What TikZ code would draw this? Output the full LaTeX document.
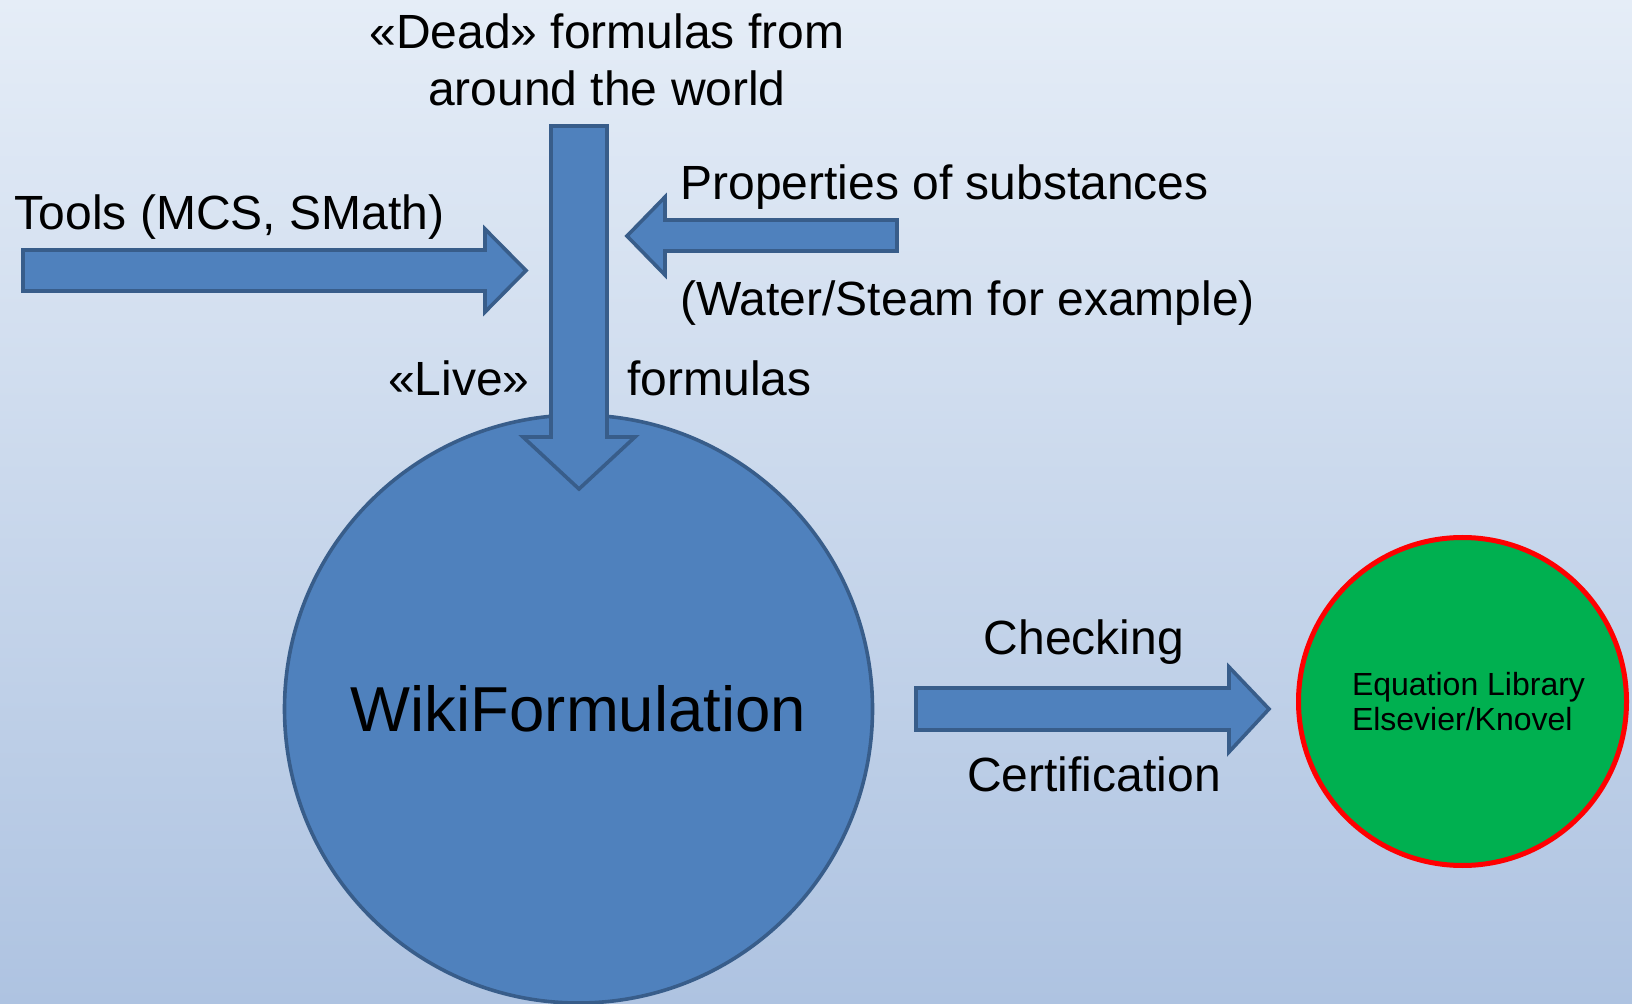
\documentclass[tikz,border=0pt]{standalone}
\usepackage{fontspec}
\setmainfont{Liberation Sans}
\usetikzlibrary{positioning}
\definecolor{bgtop}{RGB}{229,237,247}
\definecolor{bgbot}{RGB}{174,195,225}
\definecolor{arrowfill}{RGB}{79,129,189}
\definecolor{arrowline}{RGB}{56,93,138}
\definecolor{libgreen}{RGB}{0,176,80}
\tikzset{
  blockarrow/.style={fill=arrowfill,draw=arrowline,line width=1.8pt,line join=miter},
  plaintext/.style={font=\fontsize{24}{28.6}\selectfont,inner sep=0pt},
}
\begin{document}
\begin{tikzpicture}[x=0.5pt,y=-0.5pt]
    \useasboundingbox (0,0) rectangle (1632,1004);
    \shade[top color=bgtop,bottom color=bgbot] (0,0) rectangle (1632,1004);

    % main circle
    \node[circle,fill=arrowfill,draw=arrowline,line width=1.8pt,minimum size=294pt,
          font=\fontsize{31.75}{36}\selectfont] (wiki) at (578.5,709) {WikiFormulation};

    % incoming formulas from above
    \node[plaintext,align=center] (dead) at (607,60) {«Dead» formulas from\\around the world};
    \draw[blockarrow] (551,126)--(607,126)--(607,437)--(635,437)--(579,489)--(523,437)--(551,437)--cycle;
    \node[plaintext,anchor=east] (live) at (530,378) {«Live»};
    \node[plaintext,anchor=west] (formulas) at (627,378) {formulas};

    % tools
    \node[plaintext,anchor=west] (tools) at (14.5,217) {Tools (MCS, SMath)};
    \draw[blockarrow] (23,250)--(485,250)--(485,229)--(526,270.5)--(485,312)--(485,291)--(23,291)--cycle;

    % substances
    \node[plaintext,anchor=west] (props) at (680,187) {Properties of substances};
    \node[plaintext,anchor=west] (water) at (680,303) {(Water/Steam for example)};
    \draw[blockarrow] (897,220)--(665,220)--(665,197)--(627,236)--(665,275)--(665,251)--(897,251)--cycle;

    % checking against the library
    \node[plaintext] (check) at (1084,642) {Checking};
    \node[plaintext] (cert) at (1094,774) {Certification};
    \draw[blockarrow] (916,688)--(1229,688)--(1229,667)--(1269,709)--(1229,752)--(1229,730)--(916,730)--cycle;

    \node[circle,fill=libgreen,draw=red,line width=2.5pt,minimum size=164pt,align=left,
          font=\fontsize{16}{17.5}\selectfont] (lib) at (1462.5,701.5)
          {\hspace*{6pt}Equation Library\\\hspace*{6pt}Elsevier/Knovel};
\end{tikzpicture}
\end{document}
